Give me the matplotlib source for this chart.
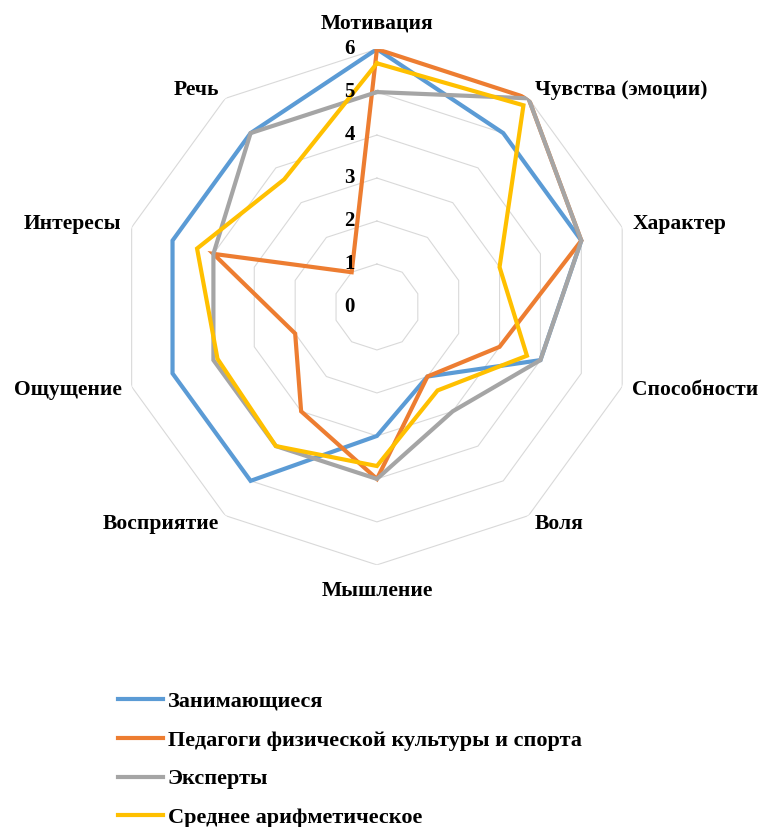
import numpy as np
import matplotlib
matplotlib.use("Agg")
import matplotlib.pyplot as plt

plt.rcParams['font.family'] = ['Liberation Serif', 'DejaVu Serif']
plt.rcParams['font.weight'] = 'bold'

# Data
categories = ['Мотивация', 'Чувства (эмоции)', 'Характер', 'Способности', 'Воля',
              'Мышление', 'Восприятие', 'Ощущение', 'Интересы', 'Речь']
zanim = [6, 5, 5, 4, 2, 3, 5, 5, 5, 5]
pedagogi = [6, 6, 5, 3, 2, 4, 3, 2, 4, 1]
eksperty = [5, 6, 5, 4, 3, 4, 4, 4, 4, 5]
srednee = [5.67, 5.8, 3, 3.67, 2.4, 3.7, 4, 3.9, 4.4, 3.67]
series_names = ['Занимающиеся', 'Педагоги физической культуры и спорта',
                'Эксперты', 'Среднее арифметическое']
levels = [0, 1, 2, 3, 4, 5, 6]

colors = ['#5B9BD5', '#ED7D31', '#A5A5A5', '#FFC000']

n = len(categories)
theta = np.linspace(0, 2 * np.pi, n, endpoint=False)
theta_c = np.append(theta, theta[0])

fig = plt.figure(figsize=(7.63, 8.27), dpi=100)
ax = fig.add_axes([0.156, 0.3168, 0.676, 0.624], projection='polar')
ax.set_theta_offset(np.pi / 2)
ax.set_theta_direction(-1)
ax.set_ylim(0, 6)
ax.grid(False)
ax.spines['polar'].set_visible(False)
ax.set_xticks([])
ax.set_yticks([])

# decagon gridlines
for lv in levels[1:]:
    ax.plot(theta_c, [lv] * (n + 1), color='#d9d9d9', lw=0.8, zorder=1)

for vals, col, name in zip([zanim, pedagogi, eksperty, srednee], colors, series_names):
    v = list(vals) + [vals[0]]
    ax.plot(theta_c, v, color=col, lw=3, label=name, zorder=3, solid_joinstyle='miter')

# radial value labels
for lv in levels:
    ax.annotate(str(lv), xy=(0, lv), xytext=(-16, 0), textcoords='offset points',
                ha='right', va='center', fontsize=15, fontweight='bold', zorder=4)

# category labels
for t, lab in zip(theta, categories):
    s = np.sin(t)
    if abs(s) < 1e-6:
        ha, r = 'center', 6.6
    elif s > 0:
        ha, r = 'left', 6.25
    else:
        ha, r = 'right', 6.25
    ax.text(t, r, lab, ha=ha, va='center', fontsize=15.5, fontweight='bold')

fig.legend(loc='upper left', bbox_to_anchor=(0.155, 0.164), frameon=False,
           fontsize=16, handlelength=2.0, handletextpad=0.23, labelspacing=0.82,
           borderpad=0, borderaxespad=0)

fig.savefig('out.png', dpi=100)
